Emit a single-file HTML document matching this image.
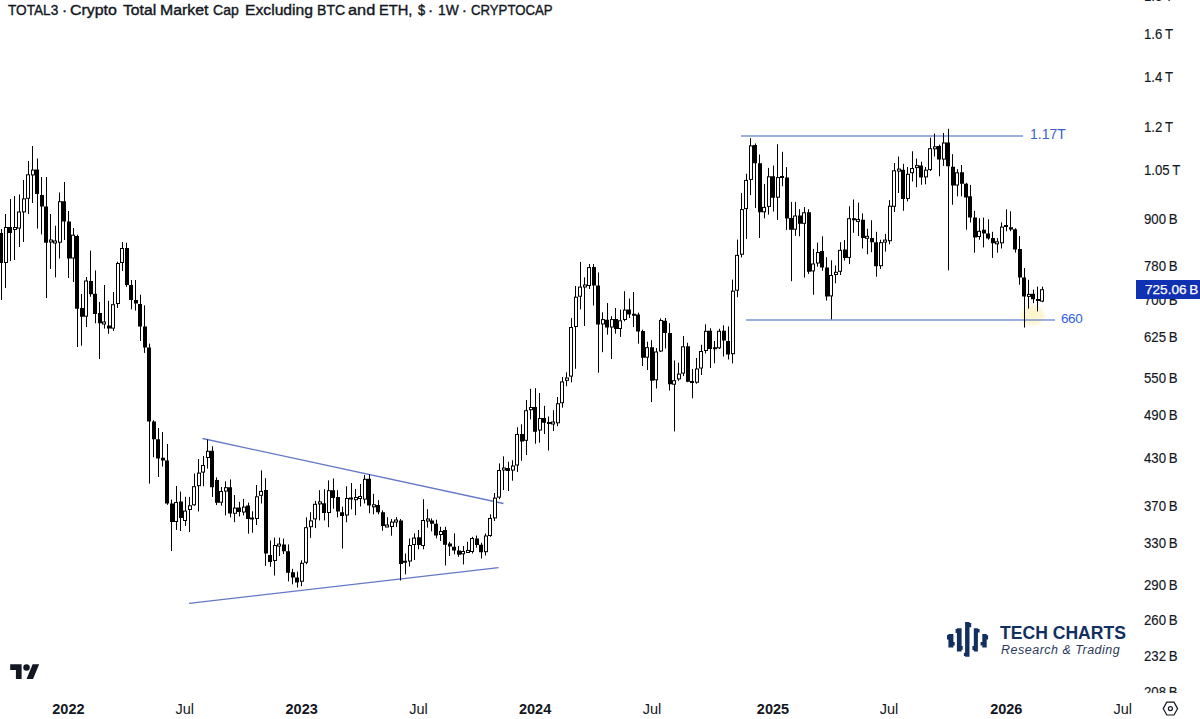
<!DOCTYPE html>
<html><head><meta charset="utf-8"><style>
html,body{margin:0;padding:0;background:#fff;}
body{width:1200px;height:719px;overflow:hidden;position:relative;font-family:"Liberation Sans",Arial,sans-serif;color:#131722;}
.tw{position:absolute;top:0px;font-size:15.5px;line-height:20px;white-space:nowrap;color:#131722;transform-origin:0 0;-webkit-text-stroke:0.4px #131722;}
svg{position:absolute;left:0;top:0;}
#pax{position:absolute;left:1136px;top:0;width:64px;height:693px;overflow:hidden;}
.pl{position:absolute;left:8px;font-size:14.5px;line-height:16px;-webkit-text-stroke:0.15px #131722;transform-origin:0 50%;transform:scaleX(0.91);white-space:nowrap;color:#131722;}
.tl{position:absolute;top:701px;width:60px;text-align:center;font-size:14.5px;line-height:16px;color:#131722;}
.tl.b{font-weight:bold;}
#last{position:absolute;left:1136px;top:280px;width:64px;height:19px;background:#1131b3;color:#fff;font-size:13.6px;line-height:19px;}
#last span{position:absolute;left:9px;top:0;-webkit-text-stroke:0.25px #fff;}
.ann{position:absolute;font-size:14px;line-height:16px;white-space:nowrap;}
#tc1{position:absolute;left:1000px;top:622.5px;transform-origin:0 0;transform:scaleX(0.976);font-size:18px;line-height:20px;font-weight:bold;color:#12305f;white-space:nowrap;}
#tc2{position:absolute;left:1001px;top:642px;font-size:12.5px;line-height:16px;font-style:italic;color:#2b3a5a;white-space:nowrap;letter-spacing:0.5px;}
</style></head><body>
<svg width="1200" height="719" viewBox="0 0 1200 719">
<defs><radialGradient id="glow"><stop offset="0" stop-color="#fdf4c8" stop-opacity="1"/><stop offset="0.65" stop-color="#fdf5cc" stop-opacity="0.85"/><stop offset="1" stop-color="#fffdf2" stop-opacity="0"/></radialGradient></defs>
<ellipse cx="1032.5" cy="315.5" rx="15" ry="13" fill="url(#glow)"/>
<g stroke="#6479c6" stroke-width="1.3" fill="none">
<path d="M202.5 438.5L503.5 503.5"/>
<path d="M189 603.3L498.5 567.7"/>
</g>
<g stroke="#7b95d5" stroke-width="1.3" fill="none">
<path d="M741 136H1023"/>
<path d="M746 320H1055"/>
</g>
<path d="M1.5 229.0V300.0M5.5 214.0V288.0M10.5 199.0V261.0M14.5 196.0V260.0M19.5 194.5V247.0M23.5 180.0V242.0M28.5 161.0V214.0M32.5 146.0V203.0M37.5 158.5V228.6M41.5 177.0V234.4M46.5 177.0V298.0M50.5 214.0V269.0M55.5 225.7V277.4M59.5 192.5V258.5M64.5 182.0V240.0M68.5 211.0V278.0M73.5 228.0V282.0M77.5 234.7V347.0M81.5 294.0V345.7M86.5 277.0V327.0M90.5 250.6V296.8M95.5 270.4V323.3M99.5 302.0V359.0M104.5 285.0V328.6M108.5 300.8V333.8M113.5 292.0V331.0M117.5 261.7V308.0M122.5 242.0V271.0M126.5 242.7V286.8M131.5 280.0V309.3M135.5 280.0V310.6M140.5 294.7V341.0M144.5 305.3V352.9M149.5 343.6V483.6M153.5 420.2V457.2M158.5 428.0V477.0M162.5 432.0V466.5M167.5 444.0V504.8M171.5 499.5V551.0M176.5 486.0V530.0M180.5 491.6V531.0M185.5 496.8V526.0M189.5 497.0V532.0M194.5 473.5V505.7M198.5 459.0V511.5M203.5 456.0V486.2M207.5 439.5V468.7M212.5 446.3V497.0M216.5 477.4V505.0M221.5 487.0V505.7M225.5 481.3V515.4M230.5 479.4V517.4M234.5 495.0V522.2M239.5 501.8V516.4M243.5 498.9V515.4M248.5 502.6V533.7M252.5 511.3V532.7M256.5 485.0V525.0M261.5 470.4V503.5M265.5 478.2V565.8M270.5 540.5V566.8M274.5 537.6V575.6M279.5 537.6V556.0M283.5 538.6V554.0M288.5 544.4V581.4M292.5 568.8V584.3M297.5 571.7V587.5M301.5 560.3V586.2M306.5 517.4V564.2M310.5 512.2V537.9M315.5 500.9V528.1M319.5 490.2V520.4M324.5 489.2V520.4M328.5 480.4V527.2M333.5 478.5V508.7M337.5 490.2V517.4M342.5 506.7V548.6M346.5 486.3V522.3M351.5 483.0V509.4M355.5 489.0V515.2M360.5 484.0V506.5M364.5 475.0V503.5M369.5 474.3V513.3M373.5 493.8V514.3M378.5 500.2V514.3M382.5 510.4V530.8M387.5 517.2V527.0M391.5 519.0V535.7M396.5 517.0V527.0M400.5 519.0V580.5M405.5 553.5V574.3M409.5 538.4V566.5M414.5 533.4V560.0M418.5 530.0V549.3M423.5 499.2V549.3M427.5 509.2V527.6M431.5 518.4V531.4M436.5 519.7V538.4M440.5 526.8V541.0M445.5 526.8V565.5M449.5 541.8V556.0M454.5 533.4V554.3M458.5 546.0V556.8M463.5 546.0V564.4M467.5 541.8V552.5M472.5 536.8V553.5M476.5 535.5V547.7M481.5 542.7V558.5M485.5 533.5V555.5M490.5 514.3V536.8M494.5 493.0V521.0M499.5 463.4V499.2M503.5 456.3V490.0M508.5 461.7V491.0M512.5 460.3V480.7M517.5 427.2V472.0M521.5 424.3V460.9M526.5 400.0V455.0M530.5 388.8V419.4M535.5 388.2V443.7M539.5 393.0V442.7M544.5 405.8V434.0M548.5 416.5V450.5M553.5 410.2V431.0M557.5 397.0V426.2M562.5 377.0V407.7M566.5 372.3V386.3M571.5 318.1V382.4M575.5 286.0V368.8M580.5 262.0V309.4M584.5 277.3V326.0M589.5 264.0V289.0M593.5 264.0V305.5M598.5 272.4V372.7M602.5 312.3V352.2M607.5 303.0V334.7M611.5 316.2V359.0M615.5 308.0V333.7M620.5 309.6V336.9M624.5 291.2V321.3M629.5 298.5V318.0M633.5 292.0V327.0M638.5 312.6V343.7M642.5 329.7V366.0M647.5 341.7V370.0M651.5 340.2V402.0M656.5 348.0V388.5M660.5 318.4V352.0M665.5 318.0V348.5M669.5 323.2V390.4M674.5 360.4V431.4M678.5 362.7V380.8M683.5 336.0V376.0M687.5 342.8V382.2M692.5 369.0V398.3M696.5 358.0V383.7M701.5 344.8V375.0M705.5 324.3V353.5M710.5 328.2V368.0M714.5 341.0V363.3M719.5 328.8V349.0M723.5 325.3V356.5M728.5 326.4V359.5M732.5 279.6V363.4M737.5 239.6V297.2M741.5 193.1V257.4M746.5 173.7V238.9M750.5 138.2V195.1M755.5 143.4V208.0M759.5 154.5V238.0M764.5 184.0V218.4M768.5 167.9V214.6M773.5 165.6V211.5M777.5 144.2V219.9M782.5 151.8V186.3M786.5 167.1V229.9M791.5 201.9V281.2M795.5 201.9V235.9M799.5 209.2V236.3M804.5 207.1V277.6M808.5 209.2V273.9M813.5 248.9V294.8M817.5 242.6V266.6M822.5 236.3V270.8M826.5 257.2V300.6M831.5 260.3V319.4M835.5 265.5V283.3M840.5 242.2V275.0M844.5 240.1V260.6M849.5 206.3V264.1M853.5 199.5V232.8M858.5 202.6V236.0M862.5 213.4V248.5M867.5 228.7V254.3M871.5 220.3V252.2M876.5 231.8V276.7M880.5 239.7V268.9M885.5 233.9V251.6M889.5 200.1V244.3M894.5 163.0V212.0M898.5 156.5V193.0M903.5 163.8V210.8M907.5 167.0V201.4M912.5 151.3V181.5M916.5 158.6V187.2M921.5 161.7V184.7M925.5 167.0V184.3M930.5 137.7V171.1M934.5 133.6V156.5M939.5 144.6V176.3M943.5 133.0V165.9M948.5 128.8V270.4M952.5 154.2V204.7M957.5 169.2V196.3M961.5 165.0V196.3M966.5 182.8V229.7M970.5 184.9V222.4M974.5 210.9V252.7M979.5 218.2V239.7M983.5 217.6V247.4M988.5 219.3V239.7M992.5 231.8V257.9M997.5 238.1V252.7M1001.5 222.4V248.5M1006.5 209.3V231.2M1010.5 211.3V231.2M1015.5 228.2V252.6M1019.5 236.0V284.7M1024.5 268.1V327.5M1028.5 279.8V308.6M1033.5 289.6V303.2M1037.5 286.6V311.4M1042.5 286.6V302.2" stroke="#000" stroke-width="1" fill="none"/>
<path d="M-1 233.0h4v30.0h-4zM8 227.0h4v6.0h-4zM35 169.6h4v24.5h-4zM40 194.9h4v11.7h-4zM44 206.6h4v36.2h-4zM62 201.2h4v20.3h-4zM67 221.5h4v37.0h-4zM75 236.0h4v72.7h-4zM80 308.0h4v8.7h-4zM89 281.0h4v13.2h-4zM93 293.7h4v20.3h-4zM98 313.0h4v10.3h-4zM107 325.4h4v3.2h-4zM125 248.0h4v37.0h-4zM129 285.0h4v15.0h-4zM134 300.0h4v3.5h-4zM138 304.0h4v22.5h-4zM143 326.5h4v21.1h-4zM147 347.6h4v73.9h-4zM152 421.5h4v17.7h-4zM156 439.2h4v19.3h-4zM161 457.7h4v2.7h-4zM165 460.4h4v43.1h-4zM170 503.5h4v18.5h-4zM179 501.6h4v16.4h-4zM210 450.8h4v36.4h-4zM215 480.0h4v22.7h-4zM228 487.2h4v26.3h-4zM237 507.6h4v4.4h-4zM246 505.5h4v13.5h-4zM250 517.4h4v2.0h-4zM264 490.0h4v63.6h-4zM268 555.0h4v7.0h-4zM282 544.4h4v6.8h-4zM286 551.2h4v21.5h-4zM291 572.3h4v5.2h-4zM295 577.5h4v4.9h-4zM322 503.2h4v9.8h-4zM331 490.2h4v7.8h-4zM336 497.0h4v14.6h-4zM340 512.2h4v3.8h-4zM349 497.4h4v2.0h-4zM367 478.8h4v26.7h-4zM376 505.0h4v7.3h-4zM381 512.3h4v13.7h-4zM399 520.5h4v43.5h-4zM403 560.8h4v2.0h-4zM417 537.3h4v7.7h-4zM430 520.4h4v3.4h-4zM434 523.8h4v11.6h-4zM443 530.0h4v14.8h-4zM448 543.5h4v3.0h-4zM452 546.8h4v3.7h-4zM457 550.5h4v4.3h-4zM475 538.5h4v6.5h-4zM479 544.8h4v7.4h-4zM506 468.0h4v2.9h-4zM520 434.0h4v7.4h-4zM533 407.0h4v24.7h-4zM542 418.0h4v4.7h-4zM547 422.1h4v2.0h-4zM592 267.1h4v18.3h-4zM596 285.4h4v39.0h-4zM605 319.7h4v7.8h-4zM614 319.1h4v9.8h-4zM627 309.6h4v4.9h-4zM632 313.8h4v2.0h-4zM636 314.5h4v17.1h-4zM641 331.0h4v26.7h-4zM650 347.2h4v33.5h-4zM663 320.7h4v12.3h-4zM668 333.0h4v51.2h-4zM686 346.3h4v35.5h-4zM690 381.0h4v2.0h-4zM708 330.8h4v18.2h-4zM713 347.2h4v2.0h-4zM722 330.8h4v9.7h-4zM726 341.0h4v13.6h-4zM753 145.0h4v18.3h-4zM758 163.3h4v49.0h-4zM771 176.3h4v21.4h-4zM780 175.9h4v2.0h-4zM785 177.5h4v40.9h-4zM789 218.0h4v11.7h-4zM798 215.5h4v8.3h-4zM807 212.3h4v59.5h-4zM820 251.0h4v16.6h-4zM825 267.6h4v28.8h-4zM843 249.5h4v8.4h-4zM852 218.2h4v2.1h-4zM861 219.7h4v18.4h-4zM870 238.1h4v4.1h-4zM874 242.2h4v24.0h-4zM901 169.7h4v29.2h-4zM919 165.5h4v11.9h-4zM937 146.1h4v13.5h-4zM946 142.5h4v23.8h-4zM951 166.7h4v18.8h-4zM960 172.3h4v11.5h-4zM964 183.8h4v13.6h-4zM968 196.3h4v21.3h-4zM973 217.6h4v20.0h-4zM982 229.7h4v3.8h-4zM986 233.5h4v5.0h-4zM991 238.1h4v5.2h-4zM1004 225.1h4v2.0h-4zM1009 227.3h4v2.3h-4zM1013 229.2h4v20.4h-4zM1018 249.1h4v28.4h-4zM1022 277.5h4v18.9h-4zM1031 293.8h4v5.5h-4zM1036 299.1h4v2.0h-4z" fill="#000"/>
<g fill="#fff" stroke="#000" stroke-width="1"><rect x="4.5" y="227.5" width="3" height="35.0"/><rect x="13.5" y="227.5" width="3" height="2.0"/><rect x="17.5" y="212.0" width="3" height="16.1"/><rect x="22.5" y="198.9" width="3" height="13.0"/><rect x="26.5" y="174.8" width="3" height="23.5"/><rect x="31.5" y="170.1" width="3" height="4.8"/><rect x="49.5" y="240.0" width="3" height="2.0"/><rect x="53.5" y="241.0" width="3" height="2.0"/><rect x="58.5" y="201.7" width="3" height="40.5"/><rect x="71.5" y="235.2" width="3" height="22.8"/><rect x="84.5" y="281.0" width="3" height="35.2"/><rect x="102.5" y="322.0" width="3" height="2.0"/><rect x="111.5" y="304.7" width="3" height="23.4"/><rect x="116.5" y="263.5" width="3" height="40.0"/><rect x="120.5" y="248.5" width="3" height="14.0"/><rect x="174.5" y="502.5" width="3" height="19.0"/><rect x="183.5" y="511.1" width="3" height="9.4"/><rect x="188.5" y="505.8" width="3" height="3.7"/><rect x="192.5" y="486.7" width="3" height="18.1"/><rect x="197.5" y="473.1" width="3" height="12.6"/><rect x="201.5" y="465.5" width="3" height="6.6"/><rect x="206.5" y="451.3" width="3" height="6.2"/><rect x="219.5" y="491.5" width="3" height="10.7"/><rect x="224.5" y="487.7" width="3" height="3.4"/><rect x="233.5" y="508.1" width="3" height="5.2"/><rect x="242.5" y="507.1" width="3" height="4.9"/><rect x="255.5" y="496.8" width="3" height="21.7"/><rect x="259.5" y="491.4" width="3" height="3.9"/><rect x="273.5" y="545.5" width="3" height="15.0"/><rect x="277.5" y="544.1" width="3" height="2.0"/><rect x="300.5" y="563.3" width="3" height="17.9"/><rect x="304.5" y="527.7" width="3" height="34.6"/><rect x="309.5" y="520.9" width="3" height="5.8"/><rect x="313.5" y="504.3" width="3" height="14.6"/><rect x="318.5" y="501.9" width="3" height="2.0"/><rect x="327.5" y="490.7" width="3" height="21.8"/><rect x="345.5" y="498.5" width="3" height="16.5"/><rect x="354.5" y="497.5" width="3" height="2.2"/><rect x="358.5" y="496.5" width="3" height="2.0"/><rect x="363.5" y="479.3" width="3" height="19.8"/><rect x="372.5" y="504.8" width="3" height="2.0"/><rect x="385.5" y="525.0" width="3" height="2.0"/><rect x="390.5" y="522.1" width="3" height="4.4"/><rect x="394.5" y="520.0" width="3" height="2.0"/><rect x="408.5" y="545.5" width="3" height="15.5"/><rect x="412.5" y="538.1" width="3" height="6.4"/><rect x="421.5" y="520.5" width="3" height="25.0"/><rect x="426.5" y="519.0" width="3" height="2.0"/><rect x="439.5" y="531.5" width="3" height="3.0"/><rect x="461.5" y="551.5" width="3" height="2.3"/><rect x="466.5" y="550.5" width="3" height="2.0"/><rect x="470.5" y="538.5" width="3" height="13.0"/><rect x="484.5" y="536.0" width="3" height="15.7"/><rect x="488.5" y="518.5" width="3" height="17.0"/><rect x="493.5" y="498.1" width="3" height="19.8"/><rect x="497.5" y="470.5" width="3" height="26.6"/><rect x="502.5" y="468.0" width="3" height="2.0"/><rect x="511.5" y="466.0" width="3" height="4.1"/><rect x="515.5" y="434.5" width="3" height="30.5"/><rect x="524.5" y="410.7" width="3" height="29.6"/><rect x="529.5" y="407.5" width="3" height="2.2"/><rect x="538.5" y="418.5" width="3" height="11.5"/><rect x="551.5" y="422.0" width="3" height="2.0"/><rect x="556.5" y="403.7" width="3" height="19.1"/><rect x="560.5" y="381.9" width="3" height="20.8"/><rect x="565.5" y="378.0" width="3" height="2.3"/><rect x="569.5" y="327.5" width="3" height="48.6"/><rect x="574.5" y="297.2" width="3" height="29.3"/><rect x="578.5" y="287.1" width="3" height="9.1"/><rect x="583.5" y="285.0" width="3" height="2.0"/><rect x="587.5" y="267.6" width="3" height="17.9"/><rect x="601.5" y="319.6" width="3" height="4.3"/><rect x="610.5" y="319.6" width="3" height="7.4"/><rect x="618.5" y="320.8" width="3" height="7.7"/><rect x="623.5" y="310.1" width="3" height="9.4"/><rect x="645.5" y="347.7" width="3" height="9.5"/><rect x="654.5" y="352.0" width="3" height="27.8"/><rect x="659.5" y="320.5" width="3" height="30.5"/><rect x="672.5" y="380.7" width="3" height="3.5"/><rect x="677.5" y="374.1" width="3" height="4.8"/><rect x="681.5" y="346.8" width="3" height="26.3"/><rect x="695.5" y="369.0" width="3" height="13.2"/><rect x="699.5" y="351.5" width="3" height="16.5"/><rect x="704.5" y="331.3" width="3" height="19.2"/><rect x="717.5" y="331.3" width="3" height="16.5"/><rect x="731.5" y="291.2" width="3" height="62.5"/><rect x="735.5" y="255.4" width="3" height="34.8"/><rect x="740.5" y="209.6" width="3" height="44.6"/><rect x="744.5" y="180.4" width="3" height="28.2"/><rect x="749.5" y="145.9" width="3" height="33.5"/><rect x="762.5" y="207.4" width="3" height="4.4"/><rect x="767.5" y="176.8" width="3" height="29.6"/><rect x="776.5" y="177.6" width="3" height="19.6"/><rect x="793.5" y="216.0" width="3" height="13.2"/><rect x="802.5" y="212.8" width="3" height="10.5"/><rect x="811.5" y="264.0" width="3" height="6.9"/><rect x="816.5" y="252.5" width="3" height="10.5"/><rect x="829.5" y="275.5" width="3" height="20.4"/><rect x="834.5" y="272.3" width="3" height="2.2"/><rect x="838.5" y="250.4" width="3" height="20.9"/><rect x="847.5" y="218.7" width="3" height="38.7"/><rect x="856.5" y="219.4" width="3" height="2.0"/><rect x="865.5" y="236.3" width="3" height="2.0"/><rect x="879.5" y="242.7" width="3" height="23.0"/><rect x="883.5" y="240.1" width="3" height="2.0"/><rect x="888.5" y="206.2" width="3" height="34.5"/><rect x="892.5" y="170.8" width="3" height="35.5"/><rect x="897.5" y="169.1" width="3" height="2.0"/><rect x="906.5" y="174.3" width="3" height="24.1"/><rect x="910.5" y="168.5" width="3" height="4.2"/><rect x="915.5" y="165.6" width="3" height="2.0"/><rect x="924.5" y="170.2" width="3" height="6.7"/><rect x="928.5" y="148.7" width="3" height="20.9"/><rect x="933.5" y="146.8" width="3" height="2.0"/><rect x="942.5" y="143.0" width="3" height="16.1"/><rect x="955.5" y="172.8" width="3" height="12.2"/><rect x="977.5" y="231.3" width="3" height="5.2"/><rect x="995.5" y="241.8" width="3" height="2.0"/><rect x="1000.5" y="227.1" width="3" height="15.7"/><rect x="1027.5" y="294.4" width="3" height="2.0"/><rect x="1040.5" y="289.7" width="3" height="11.4"/></g>
<g transform="translate(10.2,661) scale(0.816)" fill="#131722"><path d="M14 22H7V11H0V4h14v18zM28 22h-8l7.5-18h8L28 22z"/><circle cx="20" cy="8" r="4"/></g>
<g fill="#12305f">
<path d="M948.4 634.1h5v13.4h-5zM947 635h1.5v4.6H947zM953.4 642h1.3v3.5h-1.3z"/>
<path d="M956.9 628.2h4.7v23.4h-4.7zM955.6 629h1.4v4h-1.4zM961.5 646h1.2v3.8h-1.2z"/>
<path d="M965.1 622.1h4.4v34.7h-4.4zM969.4 623h1.8v4.3h-1.8zM963.9 652.8h1.3v3.2h-1.3z"/>
<path d="M973.8 628.2h4.1v23.4h-4.1zM977.8 629h1.8v3.6h-1.8zM972.4 646h1.5v4h-1.5z"/>
<path d="M982.3 634h4.4v13.5h-4.4zM986.6 635.2h1.5v4.4h-1.5zM980.6 642h1.8v3.5h-1.8z"/>
</g>
<g fill="none" stroke="#131722" stroke-width="1.2"><path d="M1166.8 702.2h7.2l3.6 6.4l-3.6 6.4h-7.2l-3.6-6.4z"/><circle cx="1170.4" cy="708.6" r="2"/></g>
</svg>
<span class="tw" style="left:7.75px;transform:scaleX(0.880)">TOTAL3</span><span class="tw" style="left:62.00px">·</span><span class="tw" style="left:70.19px;transform:scaleX(1.027)">Crypto</span><span class="tw" style="left:123.10px;transform:scaleX(1.015)">Total</span><span class="tw" style="left:160.19px;transform:scaleX(1.022)">Market</span><span class="tw" style="left:213.46px;transform:scaleX(0.906)">Cap</span><span class="tw" style="left:244.95px;transform:scaleX(1.012)">Excluding</span><span class="tw" style="left:316.56px;transform:scaleX(0.907)">BTC</span><span class="tw" style="left:348.31px;transform:scaleX(1.052)">and</span><span class="tw" style="left:379.02px;transform:scaleX(0.945)">ETH,</span><span class="tw" style="left:418.10px;transform:scaleX(0.835)">$</span><span class="tw" style="left:428.00px">·</span><span class="tw" style="left:437.83px;transform:scaleX(0.892)">1W</span><span class="tw" style="left:461.75px">·</span><span class="tw" style="left:470.82px;transform:scaleX(0.851)">CRYPTOCAP</span>
<div id="pax"><div class="pl" style="top:-12.2px">1.8 T</div><div class="pl" style="top:25.8px">1.6 T</div><div class="pl" style="top:68.9px">1.4 T</div><div class="pl" style="top:118.6px">1.2 T</div><div class="pl" style="top:161.6px">1.05 T</div><div class="pl" style="top:211.3px">900 B</div><div class="pl" style="top:257.5px">780 B</div><div class="pl" style="top:292.4px">700 B</div><div class="pl" style="top:328.9px">625 B</div><div class="pl" style="top:370.1px">550 B</div><div class="pl" style="top:407.4px">490 B</div><div class="pl" style="top:449.5px">430 B</div><div class="pl" style="top:497.9px">370 B</div><div class="pl" style="top:534.8px">330 B</div><div class="pl" style="top:576.5px">290 B</div><div class="pl" style="top:611.7px">260 B</div><div class="pl" style="top:648.4px">232 B</div><div class="pl" style="top:683.6px">208 B</div></div>
<div id="last"><span>725.06 B</span></div>
<div class="ann" style="left:1030px;top:126px;color:#3a62cc;">1.17T</div>
<div class="ann" style="left:1061px;top:311px;color:#2f5fe0;font-size:13.5px;letter-spacing:-0.4px;">660</div>
<div class="tl b" style="left:38.4px">2022</div><div class="tl" style="left:154.7px">Jul</div><div class="tl b" style="left:271.7px">2023</div><div class="tl" style="left:388.5px">Jul</div><div class="tl b" style="left:505.1px">2024</div><div class="tl" style="left:622.0px">Jul</div><div class="tl b" style="left:743.0px">2025</div><div class="tl" style="left:859.0px">Jul</div><div class="tl b" style="left:976.3px">2026</div><div class="tl" style="left:1092.7px">Jul</div>
<div id="tc1">TECH CHARTS</div>
<div id="tc2">Research &amp; Trading</div>
</body></html>
